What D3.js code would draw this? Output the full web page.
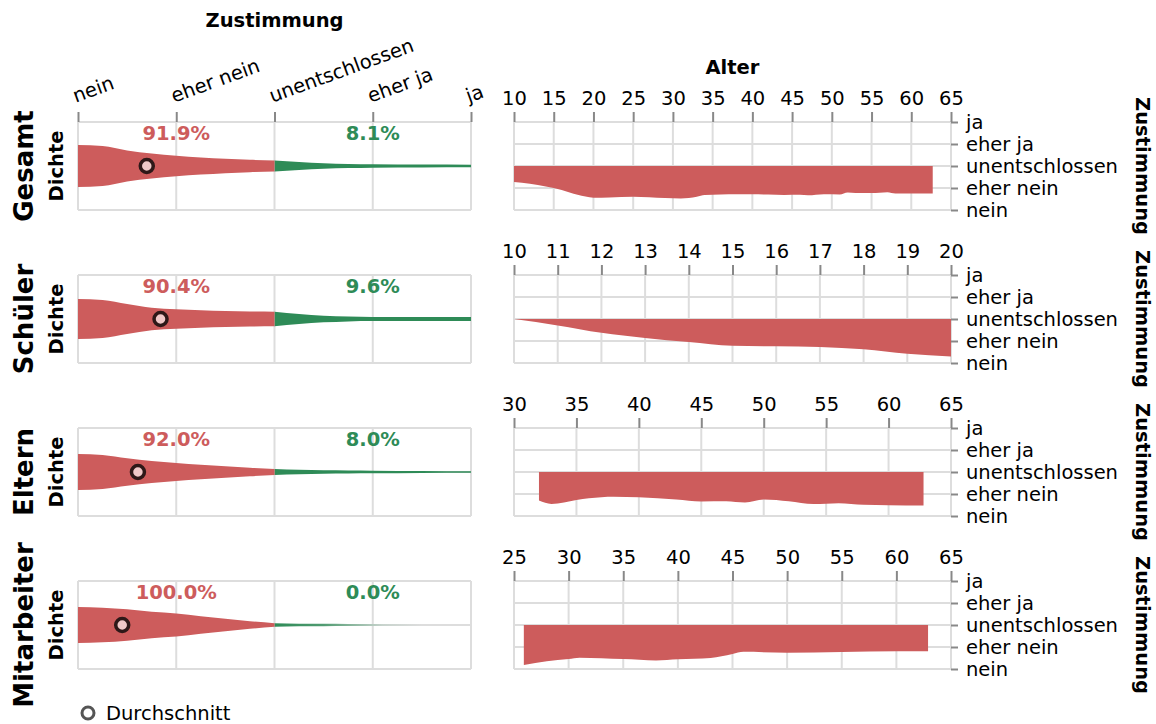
<!DOCTYPE html>
<html><head><meta charset="utf-8">
<script src="https://cdn.jsdelivr.net/npm/d3@7"></script>
<style>
body{margin:0;background:#fff}
text{font-family:"DejaVu Sans",sans-serif;fill:#000}
</style>
</head><body><svg id="c" width="1156" height="724"></svg>
<script>
// ---------------- data ----------------
const groups = ["Gesamt", "Schüler", "Eltern", "Mitarbeiter"];
const levels = ["nein", "eher nein", "unentschlossen", "eher ja", "ja"];
const levelValues = [0, 1, 2, 3, 4];

const densityX = [0, 0.25, 0.5, 0.75, 1, 1.25, 1.5, 1.75, 2, 2.25, 2.5, 2.75, 3, 3.5, 4];
const densGesamt = [0.239, 0.227, 0.176, 0.142, 0.116, 0.097, 0.081, 0.070, 0.063, 0.045, 0.032, 0.024, 0.019, 0.016, 0.014];
const densSchueler = [0.227, 0.216, 0.170, 0.128, 0.110, 0.100, 0.091, 0.086, 0.083, 0.057, 0.038, 0.027, 0.023, 0.023, 0.023];
const densEltern = [0.205, 0.193, 0.156, 0.125, 0.102, 0.082, 0.065, 0.049, 0.034, 0.025, 0.019, 0.017, 0.015, 0.011, 0.008];
const densMitarbeiter = [0.205, 0.197, 0.178, 0.150, 0.131, 0.100, 0.070, 0.043, 0.020, 0.015, 0.013, 0.011, 0.011, 0.011, 0.011];

const shareNo = ["91.9%", "90.4%", "92.0%", "100.0%"];
const shareYes = ["8.1%", "9.6%", "8.0%", "0.0%"];
const meanAgreement = [0.70, 0.84, 0.61, 0.45];

const ageDomains = [[10, 65], [10, 20], [30, 65], [25, 65]];
const ageTicksGesamt = [10, 15, 20, 25, 30, 35, 40, 45, 50, 55, 60, 65];
const ageTicksSchueler = [10, 11, 12, 13, 14, 15, 16, 17, 18, 19, 20];
const ageTicksEltern = [30, 35, 40, 45, 50, 55, 60, 65];
const ageTicksMitarbeiter = [25, 30, 35, 40, 45, 50, 55, 60, 65];

const agesGesamt = [10, 12, 14, 15, 16, 17, 18, 19, 20, 22, 25, 27, 29, 31, 33, 34, 36, 38, 40, 42, 44, 46, 47, 49, 51, 52, 53, 55, 57, 58, 60, 62.7];
const meanByAgeGesamt = [1.27, 1.19, 1.07, 1.0, 0.91, 0.80, 0.69, 0.61, 0.56, 0.57, 0.60, 0.58, 0.54, 0.52, 0.60, 0.68, 0.71, 0.72, 0.72, 0.70, 0.68, 0.69, 0.67, 0.72, 0.71, 0.80, 0.77, 0.77, 0.81, 0.75, 0.75, 0.75];
const agesSchueler = [10, 11, 12, 13, 14, 15, 16, 17, 18, 19, 20];
const meanByAgeSchueler = [2.0, 1.71, 1.37, 1.14, 0.95, 0.78, 0.76, 0.73, 0.62, 0.42, 0.30];
const agesEltern = [32, 33, 35, 36, 38, 40, 43, 45, 47, 48.5, 50, 52, 54, 56, 58, 60, 62.8];
const meanByAgeEltern = [0.70, 0.55, 0.73, 0.81, 0.88, 0.85, 0.75, 0.66, 0.67, 0.61, 0.75, 0.67, 0.54, 0.58, 0.51, 0.49, 0.48];
const agesMitarbeiter = [25.9, 28, 30, 31, 35, 38, 40, 43, 45, 46, 50, 55, 60, 62.9];
const meanByAgeMitarbeiter = [0.18, 0.35, 0.45, 0.51, 0.45, 0.39, 0.44, 0.50, 0.68, 0.78, 0.74, 0.77, 0.81, 0.81];

// ---------------- build ----------------
const dens = [densGesamt, densSchueler, densEltern, densMitarbeiter];
const ageTicks = [ageTicksGesamt, ageTicksSchueler, ageTicksEltern, ageTicksMitarbeiter];
const ages = [agesGesamt, agesSchueler, agesEltern, agesMitarbeiter];
const ageMeans = [meanByAgeGesamt, meanByAgeSchueler, meanByAgeEltern, meanByAgeMitarbeiter];

const RED = "#cd5c5c", GREEN = "#2e8b57", GRID = "#dddddd", TICK = "#888888";
const FS = 19.5;

const svg = d3.select("#c");
const defs = svg.append("defs");
const xL = d3.scaleLinear().domain([0, 4]).range([78, 471]);
const rowTop = i => 122 + 153 * i;
const H = 88;

// titles
svg.append("text").attr("x", xL(2)).attr("y", 27).attr("text-anchor", "middle")
  .attr("font-weight", "bold").attr("font-size", FS).text("Zustimmung");
svg.append("text").attr("x", (514 + 951) / 2).attr("y", 74).attr("text-anchor", "middle")
  .attr("font-weight", "bold").attr("font-size", FS).text("Alter");

groups.forEach((g, i) => {
  const top = rowTop(i);
  const yD = d3.scaleLinear().domain([-0.5, 0.5]).range([top + H, top]);
  const yR = d3.scaleLinear().domain([0, 4]).range([top + H, top]);
  const xR = d3.scaleLinear().domain(ageDomains[i]).range([514, 951]);

  // ---- left: violin ----
  const L = svg.append("g");
  L.selectAll(".gv").data(levelValues).join("line")
    .attr("x1", d => xL(d)).attr("x2", d => xL(d)).attr("y1", top).attr("y2", top + H)
    .attr("stroke", GRID).attr("stroke-width", 2);
  L.selectAll(".gh").data([-0.5, 0, 0.5]).join("line")
    .attr("x1", xL(0)).attr("x2", xL(4)).attr("y1", d => yD(d)).attr("y2", d => yD(d))
    .attr("stroke", GRID).attr("stroke-width", 2);

  const pts = densityX.map((x, k) => ({ x, d: dens[i][k] }));
  const area = d3.area().x(p => xL(p.x)).y0(p => yD(-p.d)).y1(p => yD(p.d)).curve(d3.curveMonotoneX);
  const redPts = pts.filter(p => p.x <= 2);
  const greenPts = pts.filter(p => p.x >= 2);
  let greenFill = GREEN;
  if (i === 3) {
    const grad = defs.append("linearGradient").attr("id", "fadeGreen")
      .attr("gradientUnits", "userSpaceOnUse").attr("x1", xL(2)).attr("x2", xL(4)).attr("y1", 0).attr("y2", 0);
    grad.append("stop").attr("offset", "0").attr("stop-color", GREEN).attr("stop-opacity", 1);
    grad.append("stop").attr("offset", "0.25").attr("stop-color", GREEN).attr("stop-opacity", 0.8);
    grad.append("stop").attr("offset", "0.55").attr("stop-color", GREEN).attr("stop-opacity", 0.12);
    grad.append("stop").attr("offset", "0.75").attr("stop-color", GREEN).attr("stop-opacity", 0);
    greenFill = "url(#fadeGreen)";
  }
  L.append("path").datum(greenPts).attr("d", area).attr("fill", greenFill);
  L.append("path").datum(redPts).attr("d", area).attr("fill", RED);

  // percent labels
  L.append("text").attr("x", xL(1)).attr("y", top + 18).attr("text-anchor", "middle")
    .attr("font-weight", "bold").attr("font-size", FS).style("fill", RED).text(shareNo[i]);
  L.append("text").attr("x", xL(3)).attr("y", top + 18).attr("text-anchor", "middle")
    .attr("font-weight", "bold").attr("font-size", FS).style("fill", GREEN).text(shareYes[i]);

  // mean
  L.append("circle").attr("cx", xL(meanAgreement[i])).attr("cy", yD(0)).attr("r", 6.5)
    .attr("fill", "#f0c8c8").attr("stroke", "#2e1818").attr("stroke-width", 3.5);

  // top axis (first row only)
  if (i === 0) {
    const ax = L.append("g").attr("transform", `translate(0,${top})`)
      .call(d3.axisTop(xL).tickValues(levelValues).tickFormat(d => levels[d]).tickSize(10));
    ax.select(".domain").remove();
    ax.selectAll(".tick line").attr("stroke", TICK).attr("stroke-width", 2);
    ax.selectAll(".tick text").attr("x", 4).attr("y", -19).attr("dy", 0)
      .attr("text-anchor", "start").attr("transform", "rotate(-20)")
      .attr("font-size", FS).attr("font-family", "DejaVu Sans").style("fill", "#000");
  }

  // row labels
  svg.append("text").attr("transform", `translate(33,${top + H / 2}) rotate(-90)`)
    .attr("text-anchor", "middle").attr("font-weight", "bold").attr("font-size", 26).text(g);
  svg.append("text").attr("transform", `translate(63,${top + H / 2}) rotate(-90)`)
    .attr("text-anchor", "middle").attr("font-weight", "bold").attr("font-size", FS).text("Dichte");

  // ---- right: mean agreement by age ----
  const R = svg.append("g");
  R.selectAll(".gv").data(ageTicks[i]).join("line")
    .attr("x1", d => xR(d)).attr("x2", d => xR(d)).attr("y1", top).attr("y2", top + H)
    .attr("stroke", GRID).attr("stroke-width", 2);
  R.selectAll(".gh").data(levelValues).join("line")
    .attr("x1", xR.range()[0]).attr("x2", xR.range()[1]).attr("y1", d => yR(d)).attr("y2", d => yR(d))
    .attr("stroke", GRID).attr("stroke-width", 2);

  const ap = ages[i].map((a, k) => ({ a, m: ageMeans[i][k] }));
  const ageArea = d3.area().x(p => xR(p.a)).y0(yR(2)).y1(p => yR(p.m)).curve(d3.curveMonotoneX);
  R.append("path").datum(ap).attr("d", ageArea).attr("fill", RED);

  const axT = R.append("g").attr("transform", `translate(0,${top})`)
    .call(d3.axisTop(xR).tickValues(ageTicks[i]).tickFormat(d3.format("d")).tickSize(10).tickPadding(7));
  axT.select(".domain").remove();
  axT.selectAll(".tick line").attr("stroke", TICK).attr("stroke-width", 2);
  axT.selectAll(".tick text").attr("font-size", FS).attr("font-family", "DejaVu Sans").style("fill", "#000");

  const axR = R.append("g").attr("transform", `translate(951,0)`)
    .call(d3.axisRight(yR).tickValues(levelValues).tickFormat(d => levels[d]).tickSize(7).tickPadding(8));
  axR.select(".domain").remove();
  axR.selectAll(".tick line").attr("stroke", TICK).attr("stroke-width", 2);
  axR.selectAll(".tick text").attr("font-size", FS).attr("font-family", "DejaVu Sans").style("fill", "#000");

  svg.append("text").attr("transform", `translate(1136,${top + H / 2}) rotate(90)`)
    .attr("text-anchor", "middle").attr("font-weight", "bold").attr("font-size", FS).text("Zustimmung");
});

// legend
svg.append("circle").attr("cx", 88).attr("cy", 713).attr("r", 6)
  .attr("fill", "#fff").attr("stroke", "#555").attr("stroke-width", 3);
svg.append("text").attr("x", 106).attr("y", 720).attr("font-size", FS).text("Durchschnitt");
</script>
</body></html>
